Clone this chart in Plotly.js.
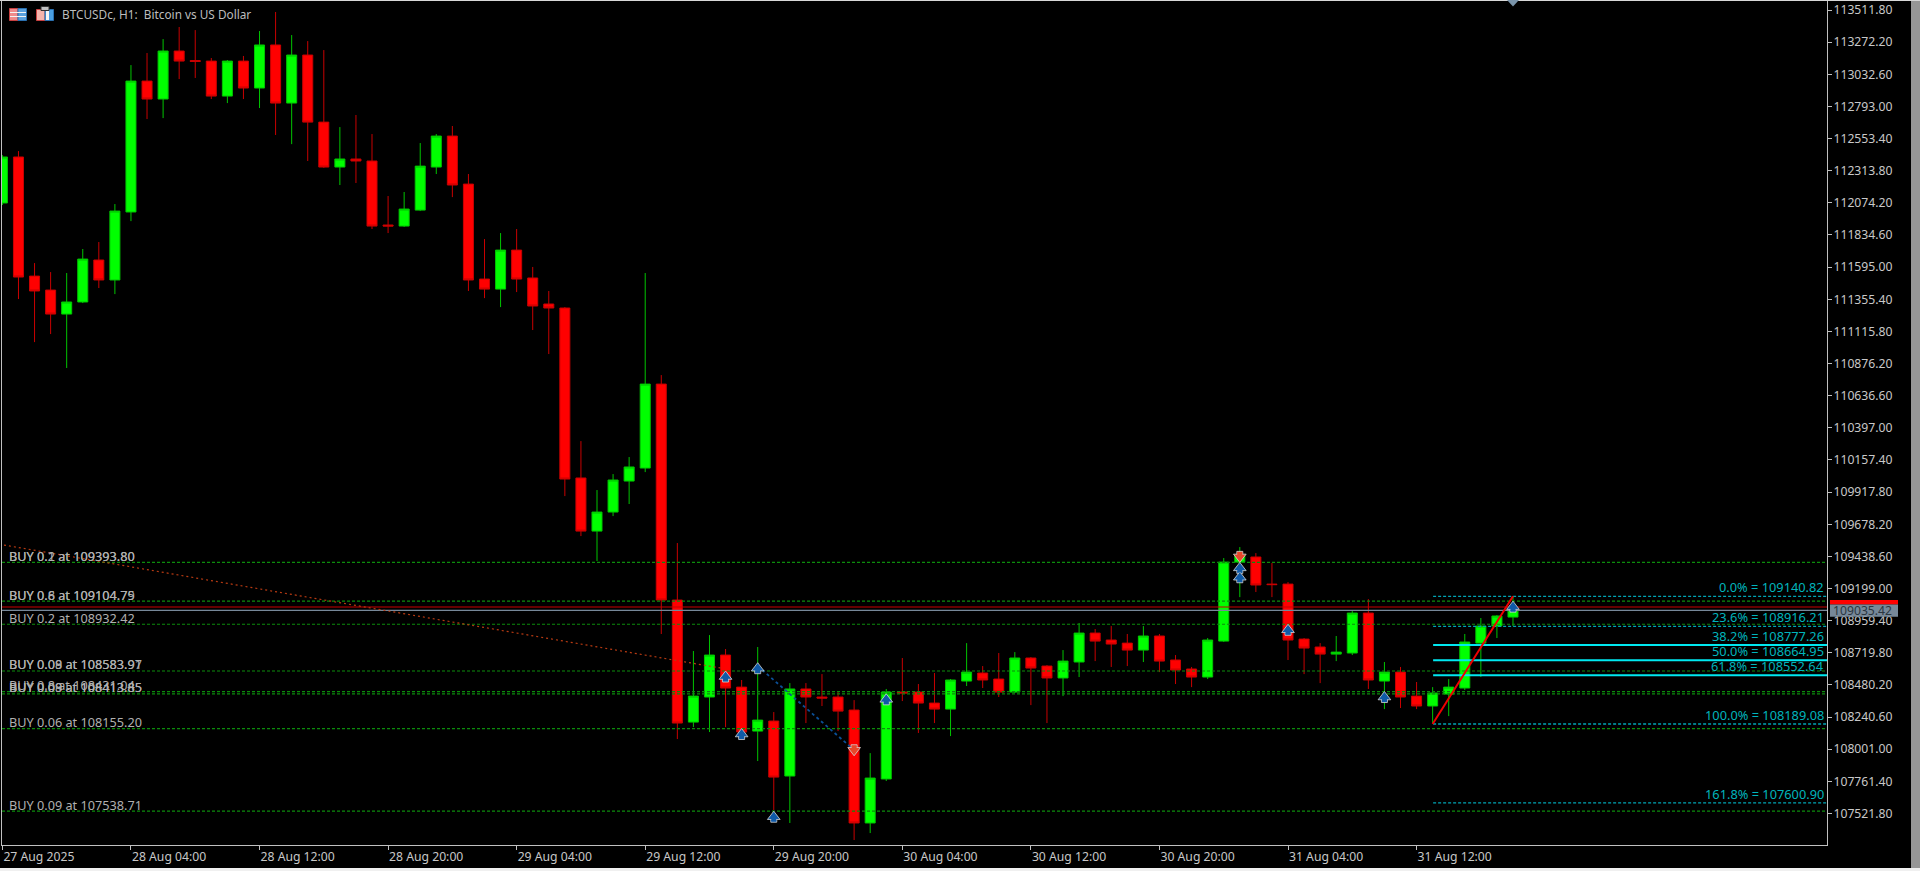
<!DOCTYPE html>
<html><head><meta charset="utf-8">
<script src="https://cdn.plot.ly/plotly-3.0.1.min.js"></script>
<style>html,body{margin:0;padding:0;background:#000;overflow:hidden}#chart{width:1920px;height:871px}</style>
</head><body><div id="chart"></div>
<script>
const openPrice=[112073,112416,111528,111424,111245,111335,111648,111499,112006,112982,112848,113206,113135,113131,112870,113131,112930,113251,112818,113176,112676,112341,112401,112386,111909,111901,112020,112341,112572,112214,111506,111431,111722,111514,111320,111290,110023,109627,109769,110000,110097,110723,109113,108203,108390,108703,108464,108136,108211,107801,108450,108390,108390,108293,107451,107779,108427,108427,108345,108300,108509,108569,108524,108427,108681,108621,108532,108651,108867,108815,108792,108740,108845,108666,108599,108539,108807,109396,109434,109232,109232,108822,108763,108710,108718,109016,108509,108576,108397,108323,108412,108457,108792,108919,108986];
const highPrice=[112430,112460,111625,111558,111551,111730,111782,112065,113101,113191,113295,113385,113362,113154,113139,113169,113355,113497,113325,113280,113213,112639,112729,112587,112125,112155,112520,112587,112647,112289,111804,111849,111879,111596,111417,111297,110298,109933,110052,110179,111551,110790,109538,108733,108852,108748,108517,108763,108278,108494,108494,108561,108427,108367,107972,108450,108681,108487,108569,108524,108792,108621,108718,108725,108688,108628,108740,108942,108897,108919,108860,108919,108860,108703,108614,108830,109426,109508,109463,109389,109247,108830,108792,108845,109038,109120,108651,108614,108502,108464,108524,108860,108979,109001,109140.82];
const lowPrice=[112058,111357,111036,111096,110843,111327,111439,111394,111938,112699,112706,112997,113005,112848,112818,112848,112781,112580,112512,112386,112335,112207,112222,111879,111849,111894,112013,112289,112117,111417,111364,111297,111409,111126,110947,109888,109590,109404,109739,109829,110067,108860,108077,108166,108129,108166,108125,107913,107547,107451,108196,108323,108136,107324,107376,107764,108360,108122,108196,108099,108472,108457,108390,108420,108330,108196,108397,108539,108658,108614,108621,108651,108576,108487,108464,108524,108800,109135,109173,109135,108666,108561,108494,108658,108703,108450,108300,108308,108300,108196,108248,108442,108539,108830,108919];
const closePrice=[112416,111521,111417,111245,111335,111655,111499,112013,112982,112848,113206,113131,113128,112870,113131,112930,113251,112818,113176,112676,112341,112401,112386,111901,111901,112028,112348,112572,112207,111499,111431,111722,111506,111305,111290,110015,109627,109769,110008,110105,110723,109113,108196,108397,108703,108457,108129,108218,107793,108450,108390,108382,108285,107451,107786,108427,108420,108345,108300,108517,108576,108517,108427,108681,108606,108532,108658,108867,108807,108785,108740,108845,108658,108591,108539,108815,109396,109448,109225,109228,108815,108755,108710,108725,109016,108517,108576,108390,108323,108420,108464,108800,108919,108994,109035.42];

const priceTicks=[113511.80,113272.20,113032.60,112793.00,112553.40,112313.80,112074.20,111834.60,111595.00,111355.40,111115.80,110876.20,110636.60,110397.00,110157.40,109917.80,109678.20,109438.60,109199.00,108959.40,108719.80,108480.20,108240.60,108001.00,107761.40,107521.80];
const timeTickBars=[0,8,16,24,32,40,48,56,64,72,80,88];
const timeTickLabels=['27 Aug 2025','28 Aug 04:00','28 Aug 12:00','28 Aug 20:00','29 Aug 04:00','29 Aug 12:00','29 Aug 20:00','30 Aug 04:00','30 Aug 12:00','30 Aug 20:00','31 Aug 04:00','31 Aug 12:00'];

const orderLevels=[109393.80,109104.79,108932.42,108583.91,108431.04,108413.85,108155.20,107538.71];
const orderLabels=['BUY 0.1 at 109393.80','BUY 0.2 at 109393.80','BUY 0.6 at 109104.75','BUY 0.8 at 109104.79','BUY 0.2 at 108932.42','BUY 0.08 at 108583.91','BUY 0.09 at 108583.97','BUY 0.8 at 108431.04','BUY 0.08 at 108413.85','BUY 0.09 at 108413.85','BUY 0.06 at 108155.20','BUY 0.09 at 107538.71'];
const orderLabelPrices=[109393.80,109393.80,109104.79,109104.79,108932.42,108583.91,108583.91,108431.04,108413.85,108413.85,108155.20,107538.71];

const fibTexts=['0.0% = 109140.82','23.6% = 108916.21','38.2% = 108777.26','50.0% = 108664.95','61.8% = 108552.64','100.0% = 108189.08','161.8% = 107600.90'];
const fibPrices=[109140.82,108916.21,108777.26,108664.95,108552.64,108189.08,107600.90];
const fibSolid=[false,false,true,true,true,false,false];
const fibTrendBars=[89,94];
const fibTrendPrices=[108189.08,109140.82];

const bidPrice=109035.42;
const askPrice=109061;
const dealBars=[0.1,44.7];
const dealPrices=[109523,108606];
const closedBars=[47,53];
const closedPrices=[108621,107995];
const buyArrowBars=[45,46,47,48,55,77,77,80,86,94];
const buyArrowTips=[108583.91,108155.20,108646,107538.71,108413.85,109393.80,109324,108932.42,108431.04,109104.79];
const sellArrowBars=[53,77];
const sellArrowTips=[107952,109393.80];

const W=1920,H=871,L=2,R=1827,T=1,B=845;
const yRange=[107286.9,113578.9];
const xRange=[-0.025,113.54];
const perPx=(yRange[1]-yRange[0])/(B-T);
const px=x=>(x-L)/(R-L), py=y=>1-(y-T)/(B-T);
const font='"Noto Sans", "Open Sans", sans-serif';
const bars=openPrice.map((_,i)=>i);

const traces=[{
  type:'candlestick',x:bars,open:openPrice,high:highPrice,low:lowPrice,close:closePrice,
  increasing:{line:{color:'#00c400',width:1},fillcolor:'#00ff00'},
  decreasing:{line:{color:'#c80000',width:1},fillcolor:'#ff0000'},
  whiskerwidth:0,showlegend:false,hoverinfo:'skip'
}];
const hline=(x,y,color,width,dash)=>traces.push({type:'scatter',mode:'lines',x,y,line:{color,width,dash},showlegend:false,hoverinfo:'skip'});

orderLevels.forEach(p=>hline(xRange,[p,p],'#0c8c0c',1.2,'3px,2px'));
fibPrices.forEach((p,i)=>hline([89.03,xRange[1]],[p,p],fibSolid[i]?'#00e8f0':'#00a4b4',fibSolid[i]?2:1.3,fibSolid[i]?'solid':'3px,2px'));
hline(xRange,[askPrice,askPrice],'#c80000',1.2,'solid');
hline(xRange,[bidPrice,bidPrice],'#778899',1.2,'solid');
hline(dealBars,dealPrices,'#b83a12',1.2,'2px,3px');
hline(closedBars,closedPrices,'#0b4f96',1.8,'3px,3px');
hline(fibTrendBars,fibTrendPrices,'#f00000',2,'solid');

function arrows(barsA,tips,dir,color){
  const off=n=>tips.map(t=>t-dir*n*perPx);
  const m=(y,symbol,size,lineW)=>traces.push({type:'scatter',mode:'markers',x:barsA,y,showlegend:false,hoverinfo:'skip',
    marker:{symbol,size,color,line:{color:'#d4d4d4',width:lineW}}});
  m(off(8),'square',6,0.8);
  m(off(5.5),dir>0?'triangle-up':'triangle-down',11,0.8);
  m(off(7.5),'square',5,0);
}
arrows(buyArrowBars,buyArrowTips,1,'#0f5aa8');
arrows(sellArrowBars,sellArrowTips,-1,'#e8472a');

const annotations=[];
orderLabels.forEach((t,i)=>annotations.push({xref:'paper',yref:'y',x:px(7.5),y:orderLabelPrices[i],xanchor:'left',yanchor:'middle',yshift:6.6,text:t,showarrow:false,borderpad:0,font:{family:font,size:12.7,color:'#b0b0b0'}}));
fibTexts.forEach((t,i)=>annotations.push({xref:'paper',yref:'y',x:1,y:fibPrices[i],xanchor:'right',yanchor:'middle',xshift:-2,yshift:9,text:t,showarrow:false,borderpad:0,font:{family:font,size:12.8,color:'#00b4bc'}}));
annotations.push({xref:'paper',yref:'y',x:px(1832),y:bidPrice,xanchor:'left',yanchor:'middle',text:bidPrice.toFixed(2),showarrow:false,borderpad:0,font:{family:font,size:12.2,color:'#2b3640'}});

const rect=(x0,x1,y0,y1,fill,line)=>({type:'rect',xref:'paper',yref:'paper',x0:px(x0),x1:px(x1),y0:py(y0),y1:py(y1),fillcolor:fill,line:{color:line||fill,width:line?1:0},layer:'above'});
const shapes=[
  rect(0,1920,0,1,'#d8d8d8'),
  rect(1911,1920,1,868,'#969696'),
  rect(0,1920,868,871,'#f0f0f0'),
  rect(1830,1898,600,604.5,'#ff0000'),
  rect(1830,1898,604.5,616.7,'#778899'),
  {type:'path',xref:'paper',yref:'paper',path:`M${px(1507)},${py(0)} L${px(1519)},${py(0)} L${px(1513)},${py(6.5)} Z`,fillcolor:'#7a94aa',line:{width:0},layer:'above'},
  rect(9.5,18,8.5,20.5,'#f08a8a','#c84040'),
  rect(18,26.5,8.5,20.5,'#5aa0dc','#2a70b0'),
  rect(10,26,12,13,'#f4f4f4'),
  rect(10,26,16,17,'#f4f4f4'),
  rect(36.5,45,9.5,20.5,'#f4b4ac','#c84040'),
  rect(45,53.5,9.5,20.5,'#4a9ee0','#2a70b0'),
  rect(46,49,11,20,'#f4f4f4'),
  rect(41,49,6.5,10.5,'#c0c0c0','#303030')
];

const layout={
  width:W,height:H,paper_bgcolor:'#000',plot_bgcolor:'#000',
  margin:{l:L,r:W-R,t:T,b:H-B,pad:0},showlegend:false,hovermode:false,dragmode:false,
  boxgap:0.21,boxgroupgap:0.21,
  title:{text:'BTCUSDc, H1:  Bitcoin vs US Dollar',x:62/W,xanchor:'left',y:1-14.5/H,yanchor:'middle',font:{family:font,size:11.8,color:'#bdbdbd'}},
  xaxis:{type:'linear',range:xRange,rangeslider:{visible:false},showgrid:false,zeroline:false,
    tickmode:'array',tickvals:timeTickBars,ticktext:timeTickLabels,ticks:'outside',ticklen:4,tickcolor:'#c0c0c0',tickwidth:1,
    ticklabelposition:'outside right',tickangle:0,showline:true,linecolor:'#c0c0c0',linewidth:1,mirror:true,
    tickfont:{family:font,size:12.2,color:'#c8c8c8'}},
  yaxis:{type:'linear',side:'right',range:yRange,showgrid:false,zeroline:false,
    tickmode:'array',tickvals:priceTicks,ticktext:priceTicks.map(v=>v.toFixed(2)),ticks:'outside',ticklen:4,tickcolor:'#c0c0c0',tickwidth:1,
    ticklabelstandoff:-1,showline:true,linecolor:'#c0c0c0',linewidth:1,mirror:true,
    tickfont:{family:font,size:12.2,color:'#c8c8c8'}},
  annotations,shapes
};
Plotly.newPlot('chart',traces,layout,{staticPlot:true,displayModeBar:false,responsive:false});
</script></body></html>
